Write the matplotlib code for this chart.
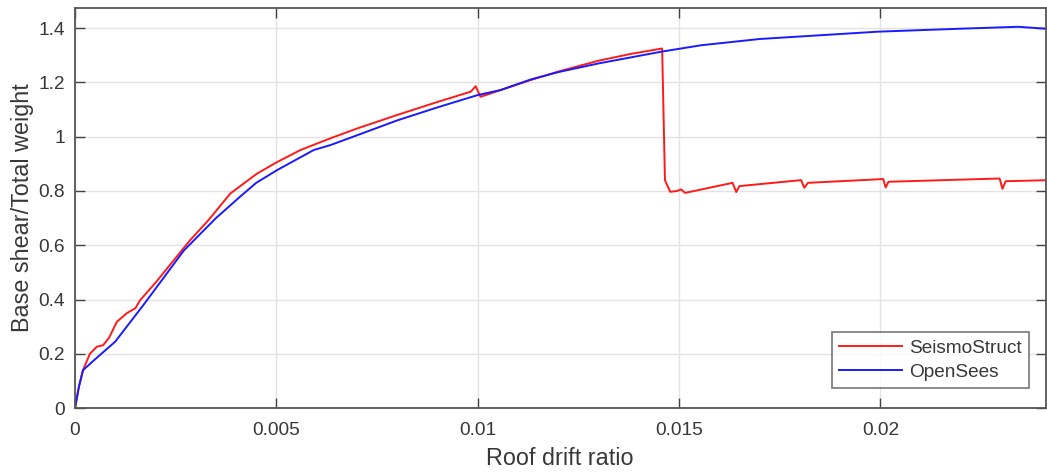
import numpy as np
import matplotlib
matplotlib.use("Agg")
import matplotlib.pyplot as plt

plt.rcParams['font.family'] = ['Liberation Sans', 'DejaVu Sans']

# Pushover curves: roof drift ratio vs normalised base shear
seismo_drift = [0, 0.0001, 0.0002, 0.00037, 0.00054, 0.0007, 0.00085, 0.00104,
                0.00129, 0.0015, 0.00162, 0.002, 0.00286, 0.0033, 0.00386,
                0.00452, 0.005, 0.0056, 0.00634, 0.007, 0.008, 0.009, 0.00983,
                0.00995, 0.01007, 0.01132, 0.012, 0.013, 0.0138, 0.01458,
                0.01465, 0.01478, 0.01495, 0.01505, 0.01515, 0.01633, 0.01642,
                0.0165, 0.01803, 0.01811, 0.0182, 0.02007, 0.02013, 0.0202,
                0.02296, 0.02303, 0.02311, 0.0242]
seismo_shear = [0, 0.08, 0.14, 0.20, 0.226, 0.232, 0.26, 0.318,
                0.350, 0.368, 0.398, 0.462, 0.619, 0.69, 0.791,
                0.864, 0.905, 0.951, 0.994, 1.03, 1.08, 1.128, 1.166,
                1.186, 1.147, 1.209, 1.24, 1.28, 1.305, 1.325,
                0.840, 0.797, 0.800, 0.806, 0.793, 0.830, 0.796,
                0.818, 0.840, 0.812, 0.830, 0.844, 0.813, 0.834,
                0.846, 0.808, 0.836, 0.840]

opensees_drift = [0, 0.0001, 0.0002, 0.0005, 0.001, 0.0017, 0.0027, 0.0035,
                  0.0041, 0.0045, 0.00502, 0.00593, 0.00634, 0.007, 0.008,
                  0.009, 0.00999, 0.01057, 0.01132, 0.012, 0.013, 0.01455,
                  0.01555, 0.017, 0.01994, 0.022, 0.02342, 0.0242]
opensees_shear = [0, 0.08, 0.14, 0.18, 0.245, 0.38, 0.58, 0.70,
                  0.779, 0.83, 0.877, 0.951, 0.969, 1.005, 1.06,
                  1.108, 1.153, 1.172, 1.211, 1.238, 1.27, 1.313,
                  1.337, 1.36, 1.387, 1.398, 1.405, 1.397]

xticks = [0, 0.005, 0.01, 0.015, 0.02]
xtick_labels = ['0', '0.005', '0.01', '0.015', '0.02']
yticks = [0, 0.2, 0.4, 0.6, 0.8, 1.0, 1.2, 1.4]
ytick_labels = ['0', '0.2', '0.4', '0.6', '0.8', '1', '1.2', '1.4']

txt = '#383838'
fig = plt.figure(figsize=(10.47, 4.74), dpi=100)
ax = fig.add_axes([0.0716, 0.139, 0.927, 0.844])

ax.plot(seismo_drift, seismo_shear, color='#ff1a1a', lw=1.4, label='SeismoStruct')
ax.plot(opensees_drift, opensees_shear, color='#1a1aff', lw=1.4, label='OpenSees')

ax.set_xlim(0, 0.0241)
ax.set_ylim(0, 1.474)
ax.set_xticks(xticks)
ax.set_xticklabels(xtick_labels)
ax.set_yticks(yticks)
ax.set_yticklabels(ytick_labels)
ax.grid(True, color='#e3e3e3', lw=1.0)
ax.set_axisbelow(True)
ax.tick_params(direction='in', top=True, right=True, length=7, width=1,
               colors='#444444', labelcolor=txt, labelsize=13.8)
ax.tick_params(axis='x', pad=10)
ax.tick_params(axis='y', pad=7)
for s in ax.spines.values():
    s.set_color('#555555')
    s.set_linewidth(1.3)

ax.set_xlabel('Roof drift ratio', fontsize=16.8, color=txt, labelpad=6)
ax.set_ylabel('Base shear/Total weight', fontsize=16.8, color=txt, labelpad=3)

leg = ax.legend(loc='lower right', fontsize=13.7, frameon=True, fancybox=False,
                borderpad=0.4, labelspacing=0.35, handlelength=3.3,
                handletextpad=0.35, borderaxespad=0,
                bbox_to_anchor=(0.983, 0.05))
leg.get_frame().set_edgecolor('#555555')
leg.get_frame().set_linewidth(1.2)
for t in leg.get_texts():
    t.set_color(txt)

fig.savefig('out.png', dpi=100)
